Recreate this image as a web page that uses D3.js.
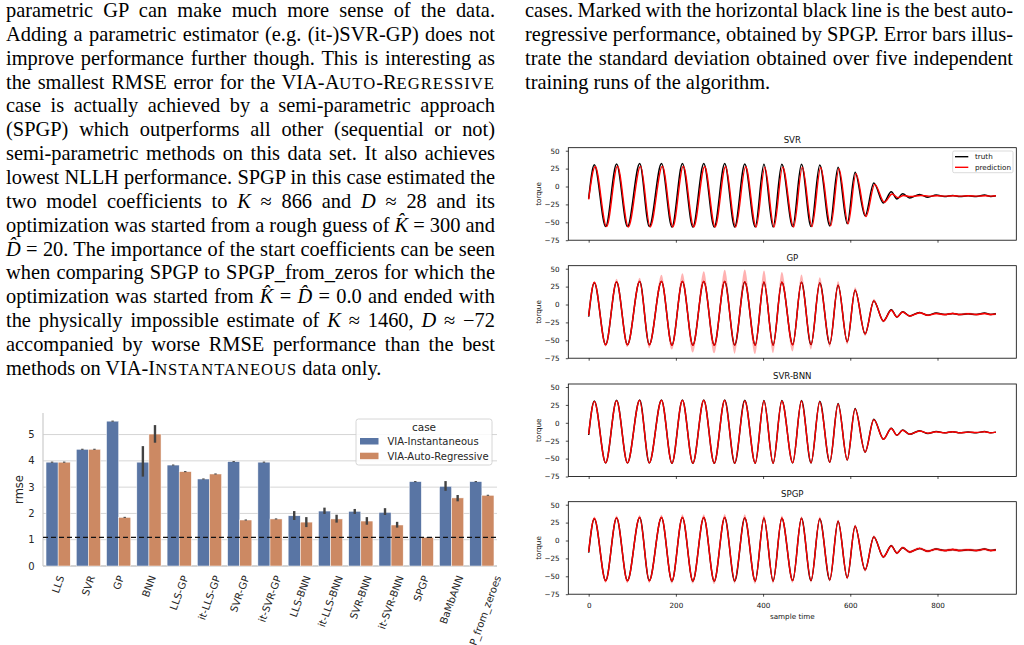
<!DOCTYPE html>
<html>
<head>
<meta charset="utf-8">
<script src="https://cdn.jsdelivr.net/npm/d3@7"></script>
<style>
body { margin: 0; background: #fff; }
svg { display: block; }
</style>
</head>
<body>
<svg id="page" width="1024" height="645"></svg>
<script>
// ---------- bar chart data (rmse per method, mean and error bar ends)
var methods = ["LLS", "SVR", "GP", "BNN", "LLS-GP", "it-LLS-GP", "SVR-GP", "it-SVR-GP",
  "LLS-BNN", "it-LLS-BNN", "SVR-BNN", "it-SVR-BNN", "SPGP", "BaMbANN", "SPGP_from_zeroes"];
var instMean = [3.95, 4.44, 5.51, 3.95, 3.84, 3.31, 3.97, 3.95, 1.91, 2.09, 2.08, 2.04, 3.21, 3.03, 3.21];
var instLo   = [3.93, 4.42, 5.49, 3.40, 3.82, 3.29, 3.95, 3.93, 1.75, 1.98, 1.98, 1.94, 3.19, 2.86, 3.19];
var instHi   = [3.97, 4.46, 5.53, 4.56, 3.86, 3.33, 3.99, 3.97, 2.09, 2.22, 2.17, 2.20, 3.23, 3.23, 3.23];
var autoMean = [3.95, 4.44, 1.85, 5.02, 3.59, 3.50, 1.75, 1.79, 1.67, 1.79, 1.71, 1.56, 1.09, 2.59, 2.69];
var autoLo   = [3.93, 4.42, 1.83, 4.69, 3.57, 3.48, 1.73, 1.77, 1.48, 1.65, 1.57, 1.46, 1.08, 2.46, 2.67];
var autoHi   = [3.97, 4.46, 1.87, 5.36, 3.61, 3.52, 1.77, 1.81, 1.86, 1.95, 1.86, 1.68, 1.10, 2.70, 2.71];
var bestAuto = 1.09;
var rmseTicks = [0, 1, 2, 3, 4, 5];
var cases = ["VIA-Instantaneous", "VIA-Auto-Regressive"];
var caseColors = ["#5975a4", "#cc8963"];

// ---------- time series data: turning points
var tKey = [0,13,39,64,89,117,139,167,191,215,239,264,288,312,335,358,382,402,423,443,468,488,510,530,553,
  572,593,611,634,654,676,694,707,720,736,759,778,797,816,835,851,870,889,908,922,934];
var truth = [-17,30.5,-56,31.5,-56,32,-56,32,-56.5,32,-56.5,32,-56.5,32,-56.5,31.5,-56.5,31,-56.5,31,
  -56,31,-56,30,-55,27,-52,20,-41,5,-23,-7.5,-17.5,-10,-16,-11,-15,-12,-14,-12.5,-14,-13,-14,-12,-14,-13];

var tSvr = [0,15,41,66,91,119,141,169,193,217,241,266,290,314,337,360,384,404,425,445,470,490,512,532,555,
  574,595,613,636,656,678,696,709,722,738,761,780,799,818,837,853,872,891,910,924,934];
var svrPred = [-18,28,-56,28.5,-56.5,28.5,-56.5,28.5,-56.5,28.5,-56.5,28,-56.5,28,-56.5,27.5,-56.5,27,-56.5,27,
  -56.5,27,-56,26.5,-55,25,-52,18,-42,3,-22,-10.5,-15.5,-12.5,-14,-12.5,-13.5,-13,-13.5,-13,-13.5,-13,-13.5,-13,-13.5,-13];

var gpPred = [-16,31,-56.5,32,-56.5,32.5,-56.5,32.5,-57,32.5,-57,32.5,-57,32.5,-57,32,-57,31.5,-57,31.5,
  -56.5,31,-56,30,-55,27,-52,20,-41,5,-23,-8,-17.5,-10.5,-16,-11.5,-15,-12.5,-14,-12.5,-14,-13,-14,-12.5,-14,-13];
var gpUp = [1.5,2,1.5,4,1.5,5,1.5,9,1.5,11,1.5,14,1.5,16,1.5,17,1.5,16,1.5,14,1.5,11,1.5,8,1.5,
  6,1.5,4,1.5,3,1.5,2,1.5,1.5,1.5,1.5,1.5,1.5,1.5,1.5,1.5,1.5,1.5,1.5,1.5,1.5];
var gpDn = [1.5,1.5,2,1.5,3,1.5,5,1.5,6,1.5,10,1.5,11,1.5,12,1.5,12,1.5,11,1.5,9,1.5,7,1.5,5,
  1.5,4,1.5,3,1.5,2,1.5,1.5,1.5,1.5,1.5,1.5,1.5,1.5,1.5,1.5,1.5,1.5,1.5,1.5,1.5];

var bnnPred = [-16,30,-56,31,-56,31.5,-56,31.5,-56.5,31.5,-56.5,31.5,-56.5,31.5,-56.5,31,-56.5,30.5,-56.5,30.5,
  -56,30.5,-56,29.5,-55,26.5,-52,19.5,-41,4.5,-23,-8,-17.5,-10.5,-16,-11.5,-14.5,-12.5,-14,-12.5,-14,-13,-13.5,-12.5,-14,-13];

var spPred = [-16,31,-56.5,32,-56.5,32.5,-56.5,32.5,-56.5,32.5,-56.5,32.5,-56.5,32.5,-56.5,32,-56.5,31.5,-56.5,31.5,
  -56,31,-56,30.5,-55,27,-52,20,-41,5,-23,-7.5,-17.5,-10,-16,-11,-15,-12,-14,-12.5,-14,-13,-14,-12,-14,-13];
var spUp = [2,2.5,2,3,2,3,2,3.5,2,4,2,4,2,4.5,2,4.5,2,4,2,3.5,2,3,2,3,2,2.5,2,2.5,2,2.5,2,2,2,2,2,2,2,2,2,2,2,2,2,2,2,2];
var spDn = [2,2,2.5,2,3,2,3,2,3.5,2,3.5,2,4,2,4,2,4,2,3.5,2,3,2,3,2,2.5,2,2.5,2,2.5,2,2,2,2,2,2,2,2,2,2,2,2,2,2,2,2,2];

var torqueTicks = [-75, -50, -25, 0, 25, 50];
var timeTicks = [0, 200, 400, 600, 800];
var panelNames = ["SVR", "GP", "SVR-BNN", "SPGP"];
var seriesNames = ["truth", "prediction"];

var svg = d3.select("#page");

// ---------- paper text
var leftLines = [
  [["parametric GP can make much more sense of the data."]],
  [["Adding a parametric estimator (e.g. (it-)SVR-GP) does not"]],
  [["improve performance further though. This is interesting as"]],
  [["the smallest RMSE error for the VIA-A"], ["uto", "sc"], ["-R"], ["egressive", "sc"]],
  [["case is actually achieved by a semi-parametric approach"]],
  [["(SPGP) which outperforms all other (sequential or not)"]],
  [["semi-parametric methods on this data set. It also achieves"]],
  [["lowest NLLH performance. SPGP in this case estimated the"]],
  [["two model coefficients to "], ["K", "i"], [" \u2248 866 and "], ["D", "i"], [" \u2248 28 and its"]],
  [["optimization was started from a rough guess of "], ["K\u0302", "i"], [" = 300 and"]],
  [["D\u0302", "i"], [" = 20. The importance of the start coefficients can be seen"]],
  [["when comparing SPGP to SPGP_from_zeros for which the"]],
  [["optimization was started from "], ["K\u0302", "i"], [" = "], ["D\u0302", "i"], [" = 0.0 and ended with"]],
  [["the physically impossible estimate of "], ["K", "i"], [" \u2248 1460, "], ["D", "i"], [" \u2248 \u221272"]],
  [["accompanied by worse RMSE performance than the best"]],
  [["methods on VIA-I"], ["nstantaneous", "sc"], [" data only."]]
];
var rightLines = [
  [["cases. Marked with the horizontal black line is the best auto-"]],
  [["regressive performance, obtained by SPGP. Error bars illus-"]],
  [["trate the standard deviation obtained over five independent"]],
  [["training runs of the algorithm."]]
];

function drawLines(lines, x0, width) {
  lines.forEach(function(segs, i) {
    var t = svg.append("text").attr("x", x0).attr("y", 17 + i * 23.85)
      .style("font-family", "Liberation Serif, Times New Roman, serif")
      .style("font-size", "20.4px").style("fill", "#000");
    segs.forEach(function(s) {
      var sp = t.append("tspan").text(s[1] === "sc" ? s[0].toUpperCase() : s[0]);
      if (s[1] === "i") sp.style("font-style", "italic");
      if (s[1] === "sc") sp.style("font-size", "16.6px").style("letter-spacing", "1px");
    });
    if (i < lines.length - 1) {
      var len = t.node().getComputedTextLength();
      var n = (t.text().match(/ /g) || []).length;
      t.style("word-spacing", ((width - len) / n) + "px");
    }
  });
}
drawLines(leftLines, 6, 489);
drawLines(rightLines, 525, 488);

// ---------- bar chart (left)
var bx = d3.scaleBand().domain(methods).range([43, 497]).paddingInner(0.2).paddingOuter(0.1);
var bsub = d3.scaleBand().domain([0, 1]).range([0, bx.bandwidth()]);
var by = d3.scaleLinear().domain([0, 5.82]).range([566, 413]);

var bar = svg.append("g");
bar.selectAll(".grid").data(rmseTicks).enter().append("line")
  .attr("x1", 43).attr("x2", 497)
  .attr("y1", function(d) { return by(d); }).attr("y2", function(d) { return by(d); })
  .style("stroke", "#d6d6d6").style("stroke-width", 1);
bar.append("line").attr("x1", 43).attr("x2", 43).attr("y1", 413).attr("y2", 566)
  .style("stroke", "#cccccc").style("stroke-width", 1.2);
bar.append("line").attr("x1", 43).attr("x2", 497).attr("y1", 566).attr("y2", 566)
  .style("stroke", "#cccccc").style("stroke-width", 1.6);

var groups = [
  {mean: instMean, lo: instLo, hi: instHi},
  {mean: autoMean, lo: autoLo, hi: autoHi}
];
groups.forEach(function(g, k) {
  bar.selectAll(".bar" + k).data(methods).enter().append("rect")
    .attr("x", function(m) { return bx(m) + bsub(k); })
    .attr("width", bsub.bandwidth())
    .attr("y", function(m, i) { return by(g.mean[i]); })
    .attr("height", function(m, i) { return by(0) - by(g.mean[i]); })
    .style("fill", caseColors[k]).style("stroke", "#fff").style("stroke-width", 0.5);
});
groups.forEach(function(g, k) {
  bar.selectAll(".err" + k).data(methods).enter().append("line")
    .attr("x1", function(m) { return bx(m) + bsub(k) + bsub.bandwidth() / 2; })
    .attr("x2", function(m) { return bx(m) + bsub(k) + bsub.bandwidth() / 2; })
    .attr("y1", function(m, i) { return by(g.lo[i]); })
    .attr("y2", function(m, i) { return by(g.hi[i]); })
    .style("stroke", "#424242").style("stroke-width", 2.4);
});
bar.append("line").attr("x1", 43).attr("x2", 497)
  .attr("y1", by(bestAuto)).attr("y2", by(bestAuto))
  .style("stroke", "#111").style("stroke-width", 1.4).style("stroke-dasharray", "5,3");

bar.selectAll(".ytl").data(rmseTicks).enter().append("text")
  .attr("x", 34.5).attr("y", function(d) { return by(d); })
  .attr("text-anchor", "end").attr("dominant-baseline", "central")
  .style("font-family", "DejaVu Sans").style("font-size", "10px").style("fill", "#262626")
  .text(function(d) { return d; });
bar.append("text").attr("transform", "translate(19," + ((413 + 566) / 2) + ") rotate(-90)")
  .attr("text-anchor", "middle").attr("dominant-baseline", "central")
  .style("font-family", "DejaVu Sans").style("font-size", "11.5px").style("fill", "#262626")
  .text("rmse");

var sin70 = Math.sin(70 * Math.PI / 180), cos70 = Math.cos(70 * Math.PI / 180);
methods.forEach(function(m) {
  var t = bar.append("text").text(m)
    .attr("text-anchor", "middle").attr("dominant-baseline", "central")
    .style("font-family", "DejaVu Sans").style("font-size", "10.2px").style("fill", "#262626");
  var L = t.node().getComputedTextLength();
  var H = L * sin70 + 11.8 * cos70;
  t.attr("transform", "translate(" + (bx(m) + bx.bandwidth() / 2) + "," + (574 + H / 2) + ") rotate(-70)");
});

// legend
var lg = bar.append("g");
lg.append("rect").attr("x", 356).attr("y", 419).attr("width", 136).attr("height", 46).attr("rx", 2.5)
  .style("fill", "#fff").style("fill-opacity", 0.85).style("stroke", "#cccccc").style("stroke-width", 0.8);
lg.append("text").attr("x", 424).attr("y", 427).attr("text-anchor", "middle").attr("dominant-baseline", "central")
  .style("font-family", "DejaVu Sans").style("font-size", "10.5px").style("fill", "#262626").text("case");
cases.forEach(function(c, k) {
  lg.append("rect").attr("x", 360).attr("y", 438 + k * 14.7).attr("width", 18.5).attr("height", 6.5)
    .style("fill", caseColors[k]);
  lg.append("text").attr("x", 387.5).attr("y", 441.3 + k * 14.7).attr("dominant-baseline", "central")
    .style("font-family", "DejaVu Sans").style("font-size", "10px").style("fill", "#262626").text(c);
});

// ---------- time series panels (right)
var px = d3.scaleLinear().domain([-46.7, 980.7]).range([568.3, 1016.3]);
var panelTop = [147.7, 265.7, 384, 501.7], panelH = 92.5;
var panels = [
  {t: tSvr, pred: svrPred, up: null, dn: null},
  {t: tKey, pred: gpPred, up: gpUp, dn: gpDn},
  {t: tKey, pred: bnnPred, up: null, dn: null},
  {t: tKey, pred: spPred, up: spUp, dn: spDn}
];
var fmt = function(d) { return d < 0 ? "\u2212" + Math.abs(d) : String(d); };

panels.forEach(function(p, i) {
  var top = panelTop[i];
  var py = d3.scaleLinear().domain([-75, 54.2]).range([top + panelH, top]);
  var g = svg.append("g");

  if (p.up) {
    var band = p.t.map(function(t, j) { return [t, p.pred[j] - p.dn[j], p.pred[j] + p.up[j]]; });
    g.append("path").datum(band)
      .attr("d", d3.area().x(function(d) { return px(d[0]); })
        .y0(function(d) { return py(d[1]); }).y1(function(d) { return py(d[2]); })
        .curve(d3.curveMonotoneX))
      .style("fill", "#ff0000").style("fill-opacity", 0.3);
  }
  var line = d3.line().x(function(d) { return px(d[0]); }).y(function(d) { return py(d[1]); })
    .curve(d3.curveMonotoneX);
  g.append("path").datum(tKey.map(function(t, j) { return [t, truth[j]]; })).attr("d", line)
    .style("fill", "none").style("stroke", "#000").style("stroke-width", 1.5);
  g.append("path").datum(p.t.map(function(t, j) { return [t, p.pred[j]]; })).attr("d", line)
    .style("fill", "none").style("stroke", "#ff0000").style("stroke-width", 1.4);

  g.append("rect").attr("x", 568.3).attr("y", top).attr("width", 1016.3 - 568.3).attr("height", panelH)
    .style("fill", "none").style("stroke", "#000").style("stroke-width", 0.8);

  var ya = g.append("g").attr("transform", "translate(568.3,0)")
    .call(d3.axisLeft(py).tickValues(torqueTicks).tickSize(2.5).tickPadding(6.2).tickFormat(fmt));
  var xa = g.append("g").attr("transform", "translate(0," + (top + panelH) + ")")
    .call(d3.axisBottom(px).tickValues(timeTicks).tickSize(2.5).tickPadding(6)
      .tickFormat(i === 3 ? fmt : function() { return ""; }));
  [ya, xa].forEach(function(a) {
    a.select(".domain").remove();
    a.selectAll("line").style("stroke", "#000").style("stroke-width", 0.7);
    a.selectAll("text").style("font-family", "DejaVu Sans").style("font-size", "7.2px").style("fill", "#111");
  });

  g.append("text").attr("x", 792.3).attr("y", top - 4.8).attr("text-anchor", "middle")
    .style("font-family", "DejaVu Sans").style("font-size", "8.6px").style("fill", "#111")
    .text(panelNames[i]);
  g.append("text").attr("transform", "translate(538.3," + (top + panelH / 2) + ") rotate(-90)")
    .attr("text-anchor", "middle").attr("dominant-baseline", "central")
    .style("font-family", "DejaVu Sans").style("font-size", "7.2px").style("fill", "#111")
    .text("torque");

  if (i === 0) {
    var leg = g.append("g");
    leg.append("rect").attr("x", 952.7).attr("y", 151).attr("width", 60.3).attr("height", 21.7).attr("rx", 1.5)
      .style("fill", "#fff").style("fill-opacity", 0.8).style("stroke", "#cccccc").style("stroke-width", 0.7);
    ["#000", "#ff0000"].forEach(function(c, k) {
      leg.append("line").attr("x1", 955).attr("x2", 968.3)
        .attr("y1", 156.7 + k * 10.6).attr("y2", 156.7 + k * 10.6)
        .style("stroke", c).style("stroke-width", 1.4);
      leg.append("text").attr("x", 975).attr("y", 156.7 + k * 10.6).attr("dominant-baseline", "central")
        .style("font-family", "DejaVu Sans").style("font-size", "7.2px").style("fill", "#111")
        .text(seriesNames[k]);
    });
  }
  if (i === 3) {
    g.append("text").attr("x", 792.3).attr("y", 619).attr("text-anchor", "middle")
      .style("font-family", "DejaVu Sans").style("font-size", "7.2px").style("fill", "#111")
      .text("sample time");
  }
});
</script>
</body>
</html>
